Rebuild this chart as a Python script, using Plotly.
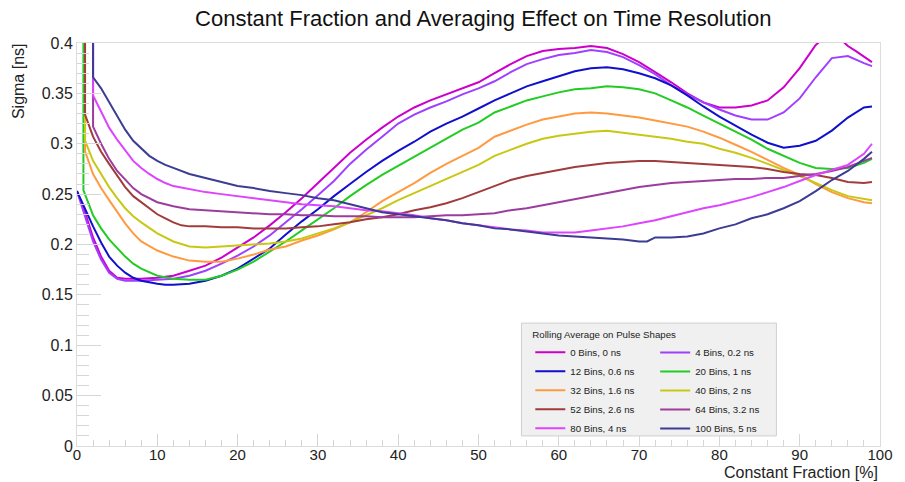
import plotly.graph_objects as go

# ---------------- data ----------------
names = ["0 Bins, 0 ns", "4 Bins, 0.2 ns", "12 Bins, 0.6 ns", "20 Bins, 1 ns",
         "32 Bins, 1.6 ns", "40 Bins, 2 ns", "52 Bins, 2.6 ns", "64 Bins, 3.2 ns",
         "80 Bins, 4 ns", "100 Bins, 5 ns"]
colors = ["#cc00cc", "#a040ff", "#1010cc", "#22cc22", "#ff9a40",
          "#c8c814", "#a03c3c", "#9c3c9c", "#dd44ff", "#3c3c94"]

x_b0 = [0, 1, 2, 3, 4, 5, 6, 8, 10, 12, 14, 16, 18, 20, 22, 24, 26, 28, 30, 32, 34, 36, 38, 40,
        42, 44, 46, 48, 50, 52, 54, 56, 58, 60, 62, 64, 66, 68, 70, 72, 74, 76, 78, 80, 82, 84,
        86, 88, 90, 92, 94, 96, 97, 99]
y_b0 = [0.253, 0.232, 0.207, 0.188, 0.174, 0.167, 0.166, 0.166, 0.167, 0.169, 0.174, 0.179,
        0.187, 0.197, 0.207, 0.219, 0.232, 0.246, 0.261, 0.276, 0.291, 0.304, 0.316, 0.327,
        0.336, 0.343, 0.349, 0.355, 0.361, 0.370, 0.379, 0.387, 0.392, 0.394, 0.395, 0.397,
        0.395, 0.389, 0.381, 0.371, 0.361, 0.350, 0.341, 0.336, 0.336, 0.338, 0.343, 0.356,
        0.375, 0.398, 0.412, 0.397, 0.392, 0.381]

x_b4 = [0, 1, 2, 3, 4, 5, 6, 8, 10, 12, 14, 16, 18, 20, 22, 24, 26, 28, 30, 32, 34, 36, 38, 40,
        42, 44, 46, 48, 50, 52, 54, 56, 58, 60, 62, 64, 66, 68, 70, 72, 74, 76, 78, 80, 82, 84,
        86, 88, 90, 92, 94, 96, 98, 99]
y_b4 = [0.253, 0.228, 0.203, 0.185, 0.172, 0.166, 0.164, 0.164, 0.165, 0.166, 0.169, 0.174,
        0.181, 0.189, 0.198, 0.209, 0.222, 0.235, 0.249, 0.263, 0.280, 0.294, 0.307, 0.320,
        0.329, 0.336, 0.342, 0.349, 0.355, 0.362, 0.371, 0.379, 0.384, 0.388, 0.390, 0.393,
        0.391, 0.386, 0.378, 0.369, 0.358, 0.349, 0.341, 0.334, 0.328, 0.324, 0.324, 0.331,
        0.345, 0.366, 0.385, 0.387, 0.380, 0.377]

x_b12 = [0, 1, 2, 3, 4, 5, 6, 7, 8, 10, 11, 12, 14, 16, 18, 20, 22, 24, 26, 28, 30, 32, 34, 36,
         38, 40, 42, 44, 46, 48, 50, 52, 54, 56, 58, 60, 62, 64, 66, 68, 70, 72, 74, 76, 78, 80,
         82, 84, 86, 88, 90, 92, 94, 96, 98, 99]
y_b12 = [0.253, 0.235, 0.218, 0.202, 0.188, 0.179, 0.172, 0.167, 0.164, 0.161, 0.160, 0.160,
         0.161, 0.164, 0.169, 0.176, 0.186, 0.196, 0.210, 0.223, 0.235, 0.248, 0.260, 0.272,
         0.283, 0.293, 0.302, 0.312, 0.320, 0.327, 0.335, 0.343, 0.350, 0.357, 0.362, 0.367,
         0.372, 0.375, 0.376, 0.374, 0.370, 0.365, 0.358, 0.348, 0.337, 0.327, 0.318, 0.309,
         0.301, 0.296, 0.298, 0.303, 0.313, 0.326, 0.336, 0.337]

x_b20 = [0.8, 0.8, 2, 3, 4, 5, 6, 7, 8, 10, 12, 14, 16, 18, 20, 22, 24, 26, 28, 30, 32, 34, 36,
         38, 40, 42, 44, 46, 48, 50, 52, 54, 56, 58, 60, 62, 64, 66, 68, 70, 72, 74, 76, 78, 80,
         82, 84, 86, 88, 90, 92, 94, 96, 98, 99]
y_b20 = [1.0, 0.254, 0.229, 0.216, 0.205, 0.196, 0.188, 0.181, 0.176, 0.169, 0.166, 0.165,
         0.165, 0.169, 0.175, 0.183, 0.193, 0.203, 0.214, 0.225, 0.236, 0.248, 0.259, 0.269,
         0.278, 0.287, 0.296, 0.305, 0.314, 0.321, 0.331, 0.337, 0.343, 0.347, 0.351, 0.354,
         0.355, 0.357, 0.356, 0.354, 0.350, 0.343, 0.336, 0.328, 0.320, 0.312, 0.304, 0.295,
         0.288, 0.281, 0.276, 0.275, 0.276, 0.281, 0.285]

x_b32 = [1, 1, 2, 3, 4, 5, 6, 7, 8, 10, 12, 14, 16, 18, 20, 22, 24, 26, 28, 30, 32, 34, 36, 38,
         40, 42, 44, 46, 48, 50, 52, 54, 56, 58, 60, 62, 64, 66, 68, 70, 72, 74, 76, 78, 80, 82,
         84, 86, 88, 90, 92, 94, 96, 98, 99]
y_b32 = [1.0, 0.2925, 0.270, 0.256, 0.244, 0.232, 0.221, 0.211, 0.203, 0.194, 0.188, 0.184,
         0.183, 0.183, 0.186, 0.190, 0.195, 0.198, 0.204, 0.209, 0.215, 0.222, 0.232, 0.243,
         0.252, 0.261, 0.271, 0.280, 0.288, 0.296, 0.307, 0.313, 0.319, 0.324, 0.327, 0.330,
         0.331, 0.330, 0.328, 0.326, 0.323, 0.320, 0.317, 0.312, 0.306, 0.299, 0.292, 0.284,
         0.276, 0.269, 0.260, 0.252, 0.246, 0.242, 0.241]

x_b40 = [1, 1, 2, 3, 4, 5, 6, 7, 8, 10, 12, 14, 16, 18, 20, 22, 24, 26, 28, 30, 32, 34, 36, 38,
         40, 42, 44, 46, 48, 50, 52, 54, 56, 58, 60, 62, 64, 66, 68, 70, 72, 74, 76, 78, 80, 82,
         84, 86, 88, 90, 92, 94, 96, 98, 99]
y_b40 = [1.0, 0.303, 0.283, 0.270, 0.257, 0.246, 0.236, 0.228, 0.222, 0.211, 0.203, 0.198,
         0.197, 0.198, 0.199, 0.200, 0.201, 0.203, 0.206, 0.211, 0.216, 0.222, 0.229, 0.236,
         0.244, 0.251, 0.258, 0.265, 0.272, 0.279, 0.288, 0.294, 0.300, 0.305, 0.308, 0.310,
         0.312, 0.313, 0.311, 0.309, 0.307, 0.305, 0.302, 0.300, 0.295, 0.291, 0.286, 0.280,
         0.274, 0.268, 0.261, 0.254, 0.248, 0.245, 0.244]

x_b52 = [1, 1, 2, 3, 4, 5, 6, 7, 8, 9, 10, 11, 12, 13, 14, 16, 18, 20, 22, 24, 26, 28, 30, 32,
         34, 36, 38, 40, 42, 44, 46, 48, 50, 52, 54, 56, 58, 60, 62, 64, 66, 68, 70, 72, 74, 76,
         78, 80, 82, 84, 86, 88, 90, 92, 94, 96, 98, 99]
y_b52 = [1.0, 0.329, 0.307, 0.292, 0.280, 0.268, 0.257, 0.248, 0.242, 0.236, 0.230, 0.226,
         0.222, 0.219, 0.218, 0.218, 0.217, 0.217, 0.216, 0.216, 0.216, 0.217, 0.218, 0.220,
         0.222, 0.225, 0.227, 0.230, 0.234, 0.237, 0.241, 0.246, 0.252, 0.258, 0.264, 0.268,
         0.271, 0.274, 0.277, 0.279, 0.281, 0.282, 0.283, 0.283, 0.282, 0.281, 0.280, 0.279,
         0.278, 0.277, 0.275, 0.272, 0.270, 0.269, 0.266, 0.262, 0.261, 0.262]

x_b64 = [2, 2, 3, 4, 5, 6, 7, 8, 9, 10, 11, 12, 14, 16, 18, 20, 22, 24, 26, 28, 30, 32, 34, 36,
         38, 40, 42, 44, 46, 48, 50, 52, 54, 56, 58, 60, 62, 64, 66, 68, 70, 72, 74, 76, 78, 80,
         82, 84, 86, 88, 90, 92, 94, 96, 98, 99]
y_b64 = [1.0, 0.317, 0.300, 0.285, 0.273, 0.264, 0.256, 0.250, 0.246, 0.242, 0.240, 0.238,
         0.235, 0.234, 0.233, 0.232, 0.231, 0.230, 0.230, 0.229, 0.229, 0.228, 0.228, 0.228,
         0.227, 0.227, 0.227, 0.228, 0.229, 0.229, 0.230, 0.231, 0.234, 0.236, 0.239, 0.242,
         0.245, 0.248, 0.251, 0.254, 0.257, 0.259, 0.261, 0.262, 0.263, 0.264, 0.265, 0.265,
         0.266, 0.266, 0.268, 0.270, 0.273, 0.277, 0.283, 0.286]

x_b80 = [2, 2, 3, 4, 5, 6, 7, 8, 9, 10, 11, 12, 14, 16, 18, 20, 22, 24, 26, 28, 30, 32, 34, 36,
         38, 40, 42, 44, 46, 48, 50, 52, 54, 56, 58, 60, 62, 64, 66, 68, 70, 72, 74, 76, 78, 80,
         82, 84, 86, 88, 90, 92, 94, 96, 98, 99]
y_b80 = [1.0, 0.348, 0.332, 0.316, 0.304, 0.293, 0.283, 0.276, 0.270, 0.265, 0.261, 0.258,
         0.255, 0.252, 0.250, 0.248, 0.246, 0.244, 0.242, 0.240, 0.239, 0.238, 0.236, 0.234,
         0.233, 0.231, 0.229, 0.226, 0.224, 0.221, 0.219, 0.217, 0.215, 0.214, 0.212, 0.212,
         0.212, 0.214, 0.216, 0.218, 0.221, 0.224, 0.228, 0.232, 0.236, 0.239, 0.243, 0.247,
         0.252, 0.257, 0.263, 0.269, 0.274, 0.279, 0.290, 0.300]

x_b100 = [2, 2, 3, 4, 5, 6, 7, 8, 9, 10, 11, 12, 14, 16, 18, 20, 22, 24, 26, 28, 30, 32, 34, 36,
          38, 40, 42, 44, 46, 48, 50, 52, 54, 56, 58, 60, 62, 64, 66, 68, 70, 71, 72, 74, 76,
          78, 80, 82, 84, 86, 88, 90, 92, 94, 96, 98, 99]
y_b100 = [1.0, 0.366, 0.355, 0.341, 0.327, 0.314, 0.303, 0.295, 0.288, 0.283, 0.279, 0.276,
          0.270, 0.266, 0.262, 0.258, 0.256, 0.253, 0.251, 0.249, 0.246, 0.244, 0.240, 0.236,
          0.232, 0.230, 0.228, 0.226, 0.224, 0.221, 0.219, 0.216, 0.215, 0.213, 0.211, 0.209,
          0.208, 0.207, 0.206, 0.205, 0.203, 0.203, 0.207, 0.207, 0.208, 0.211, 0.216, 0.220,
          0.226, 0.230, 0.236, 0.243, 0.253, 0.264, 0.273, 0.285, 0.292]

xs = [x_b0, x_b4, x_b12, x_b20, x_b32, x_b40, x_b52, x_b64, x_b80, x_b100]
ys = [y_b0, y_b4, y_b12, y_b20, y_b32, y_b40, y_b52, y_b64, y_b80, y_b100]

x_ticks = [0, 10, 20, 30, 40, 50, 60, 70, 80, 90, 100]
y_ticks = [0, 0.05, 0.1, 0.15, 0.2, 0.25, 0.3, 0.35, 0.4]

title_text = "Constant Fraction and Averaging Effect on Time Resolution"
legend_title = "Rolling Average on Pulse Shapes"
x_title = "Constant Fraction [%]"
y_title = "Sigma [ns]"

# ---------------- figure ----------------
FONT = "Liberation Sans, Arial, Helvetica, sans-serif"
fig = go.Figure()
for i, (n, c, xv, yv) in enumerate(zip(names, colors, xs, ys)):
    fig.add_trace(go.Scatter(
        x=xv, y=yv, mode="lines", name=n,
        line=dict(color=c, width=2),
        legend="legend" if i % 2 == 0 else "legend2",
    ))

tick_col = "#d6d6d6"
fig.update_layout(
    width=905, height=482,
    margin=dict(l=77, r=15, t=43, b=36),
    paper_bgcolor="white", plot_bgcolor="white",
    font=dict(family=FONT, color="#222222"),
    title=dict(text=title_text, x=0.534, xanchor="center", y=0.963, yanchor="middle",
               font=dict(size=22, family=FONT, color="#111111")),
    xaxis=dict(range=[0, 100], tickvals=x_ticks, ticks="inside", ticklen=12,
               tickcolor=tick_col, showgrid=False, zeroline=False,
               showline=True, linecolor="#dcdcdc", linewidth=1, mirror=True,
               ticklabelstandoff=-5,
               tickfont=dict(size=15, family=FONT, color="#222222"),
               minor=dict(dtick=2, ticks="inside", ticklen=6, tickcolor=tick_col, showgrid=False)),
    yaxis=dict(range=[0, 0.4], tickvals=y_ticks, ticktext=[f"{v:g}" for v in y_ticks],
               ticks="inside", ticklen=24,
               tickcolor=tick_col, showgrid=False, zeroline=False,
               showline=True, linecolor="#dcdcdc", linewidth=1, mirror=True,
               tickfont=dict(size=16, family=FONT, color="#222222"),
               minor=dict(dtick=0.01, ticks="inside", ticklen=12, tickcolor=tick_col, showgrid=False)),
    legend=dict(x=0.5645, xanchor="left", y=0.30, yanchor="top",
                bgcolor="rgba(0,0,0,0)", borderwidth=0,
                font=dict(size=9.7, family=FONT, color="#222222"),
                title=dict(text=legend_title, side="top",
                           font=dict(size=9.7, family=FONT, color="#222222"))),
    legend2=dict(x=0.72, xanchor="left", y=0.268, yanchor="top",
                 bgcolor="rgba(0,0,0,0)", borderwidth=0,
                 font=dict(size=9.7, family=FONT, color="#222222")),
    shapes=[dict(type="rect", xref="paper", yref="paper",
                 x0=0.5535, x1=0.871, y0=0.025, y1=0.305,
                 fillcolor="#f0f0f0", line=dict(color="#cfcfcf", width=1), layer="above")],
    annotations=[
        dict(text=y_title, textangle=-90, xref="paper", yref="paper",
             x=-0.0726, y=1.004, xanchor="center", yanchor="top", showarrow=False,
             font=dict(size=16, family=FONT, color="#222222")),
        dict(text=x_title, xref="paper", yref="paper",
             x=1.0, y=-0.093, xanchor="right", yanchor="bottom", showarrow=False,
             font=dict(size=16, family=FONT, color="#222222")),
    ],
    showlegend=True,
)

fig.write_html("out.html")
